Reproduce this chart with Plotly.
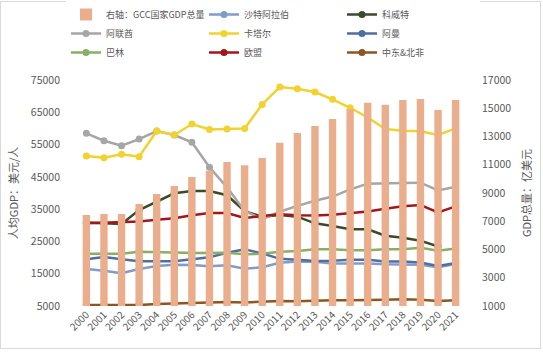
import plotly.graph_objects as go

years = [str(y) for y in range(2000, 2022)]

gcc_gdp = [7440, 7510, 7510, 8220, 8930, 9500, 10130, 10580, 11200, 10960, 11480,
           12560, 13250, 13740, 14240, 14930, 15390, 15250, 15580, 15660, 14880, 15580]

saudi = [16460, 15940, 15120, 16460, 17390, 17800, 17700, 17300, 17600, 16560, 17000,
         18400, 18800, 18700, 18200, 18200, 18200, 17900, 17900, 17800, 17000, 18000]
kuwait = [30900, 30600, 30400, 34700, 37400, 39900, 40600, 40600, 39300, 34400, 32660,
          33200, 32660, 30600, 29780, 28750, 28750, 26780, 26160, 25230, 23480, None]
uae = [58490, 56200, 54650, 56700, 59200, 57960, 55700, 47950, 41760, 34400, 31940,
       34200, 36000, 37600, 38900, 41100, 42900, 42900, 43100, 43200, 40800, 41950]
qatar = [51450, 50940, 51970, 51250, 59200, 57960, 61370, 59700, 59800, 60000, 67450,
         72800, 72300, 71280, 69000, 66400, 63400, 59800, 59300, 59100, 57960, 60000]
oman = [19450, 20180, 19500, 18830, 18830, 18830, 19450, 20100, 21500, 22550, 21300,
        19600, 19300, 18900, 19000, 19300, 19300, 18800, 18800, 18500, 17400, 18300]
bahrain = [21200, 21200, 21200, 21830, 21830, 21600, 21400, 21400, 21500, 21000, 21200,
           21800, 22000, 22550, 22550, 22300, 22300, 22550, 22550, 23060, 22100, 22800]
eu = [30600, 30800, 30800, 31200, 31740, 32150, 33080, 33800, 33800, 32250, 32870,
      33400, 33080, 33000, 33300, 33800, 34300, 35140, 35870, 36280, 34000, 35870]
mena = [5300, 5300, 5300, 5300, 5600, 5800, 6000, 6100, 6240, 6100, 6350,
        6550, 6450, 6650, 6750, 6750, 6960, 6960, 7060, 6960, 6550, 6750]

left_ticks = [5000, 15000, 25000, 35000, 45000, 55000, 65000, 75000]
right_ticks = [1000, 3000, 5000, 7000, 9000, 11000, 13000, 15000, 17000]

series = [
    ("沙特阿拉伯", saudi, "#7F9CCB"),
    ("科威特", kuwait, "#3B4A2A"),
    ("阿联酋", uae, "#A6A6A6"),
    ("卡塔尔", qatar, "#F1D22E"),
    ("阿曼", oman, "#4F6FA3"),
    ("巴林", bahrain, "#86B063"),
    ("欧盟", eu, "#A3161B"),
    ("中东&北非", mena, "#8A5722"),
]

FONT = "Noto Sans CJK SC"
GRAY = "#595959"

W, H = 543, 352
L, R, T, B = 61, 62, 80, 46
PW, PH = W - L - R, H - T - B


def px_x(p):
    return (p - L) / PW


def px_y(p):
    return (H - B - p) / PH


fig = go.Figure()
fig.add_trace(go.Bar(
    x=years, y=gcc_gdp, name="右轴：GCC国家GDP总量", yaxis="y2",
    marker=dict(color="#EAAE8D", line=dict(width=0)), width=0.42,
))
for name, vals, col in series:
    fig.add_trace(go.Scatter(
        x=years, y=vals, name=name, mode="lines+markers",
        line=dict(color=col, width=2.5),
        marker=dict(color=col, size=7),
    ))

fig.update_layout(
    width=W, height=H,
    margin=dict(l=L, r=R, t=T, b=B, autoexpand=False),
    paper_bgcolor="white", plot_bgcolor="white",
    font=dict(family=FONT, size=11, color=GRAY),
    showlegend=True,
    legend=dict(orientation="h", x=px_x(66), xanchor="left", y=px_y(0), yanchor="top",
                entrywidth=93, entrywidthmode="pixels",
                font=dict(size=9, color=GRAY), tracegroupgap=0,
                itemwidth=30),
    xaxis=dict(type="category", tickangle=-45, showgrid=False, zeroline=False,
               showline=False, ticks="", tickfont=dict(size=10, color=GRAY)),
    yaxis=dict(range=[5000, 75000], tickvals=left_ticks, ticktext=[str(v) for v in left_ticks],
               showgrid=False, zeroline=False, showline=False,
               title=dict(text="人均GDP：美元/人", font=dict(size=11, color=GRAY), standoff=10),
               tickfont=dict(size=10.5, color=GRAY)),
    yaxis2=dict(range=[1000, 17000], tickvals=right_ticks, ticktext=[str(v) for v in right_ticks],
                overlaying="y", side="right", showgrid=False, zeroline=False, showline=False,
                title=dict(text="GDP总量：亿美元", font=dict(size=11, color=GRAY), standoff=12),
                tickfont=dict(size=10.5, color=GRAY)),
    shapes=[dict(type="rect", xref="paper", yref="paper",
                 x0=px_x(0.5), x1=px_x(540.5), y0=px_y(348.5), y1=px_y(1.5),
                 line=dict(color="#D9D9D9", width=1), fillcolor="rgba(0,0,0,0)",
                 layer="below")],
)

fig.write_html("out.html")
